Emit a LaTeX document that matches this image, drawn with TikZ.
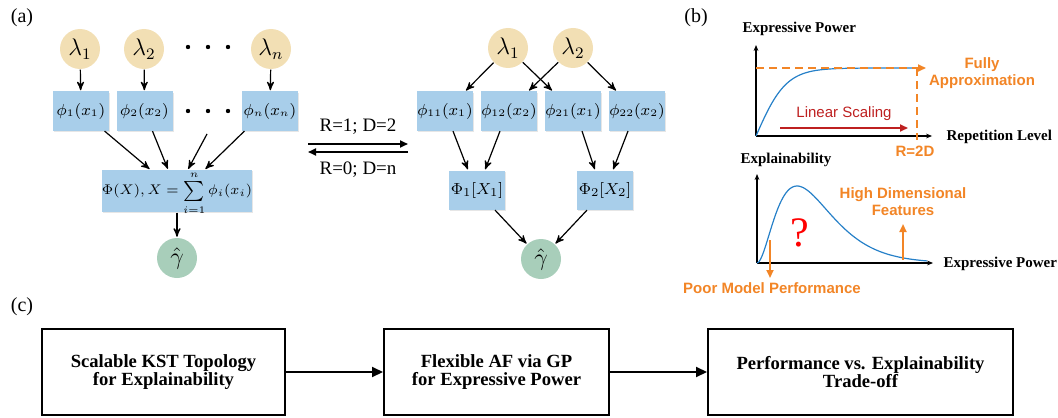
\documentclass[tikz,border=0pt]{standalone}
\usepackage{fontspec}
\setmainfont{Liberation Serif}
\setsansfont{Liberation Sans}
\usetikzlibrary{arrows,arrows.meta,shadows}

\definecolor{lamfill}{RGB}{242,223,180}
\definecolor{phifill}{RGB}{168,206,234}
\definecolor{outfill}{RGB}{168,206,186}
\definecolor{hiorange}{RGB}{242,133,38}
\definecolor{curveblue}{RGB}{38,128,200}
\definecolor{scalered}{RGB}{190,32,32}

\begin{document}
\begin{tikzpicture}[x=0.5pt,y=-0.5pt,>=stealth',line width=0.6pt]
  \tikzstyle{param} = [circle, fill=lamfill, minimum size=20pt, inner sep=0pt, font=\fontsize{12}{12}\selectfont]
  \tikzstyle{output} = [circle, fill=outfill, minimum size=20pt, inner sep=0pt, font=\fontsize{12}{12}\selectfont]
  \tikzstyle{func} = [rectangle, fill=phifill, minimum width=28pt, minimum height=19.5pt, inner sep=0pt, font=\fontsize{7.6}{7.6}\selectfont, drop shadow={shadow xshift=0.6pt, shadow yshift=-0.6pt, opacity=0.2}]
  \tikzstyle{dotmark} = [circle, fill, inner sep=0pt, minimum size=2.2pt]
  \tikzstyle{link} = [->, shorten >=0.3pt]
  \tikzstyle{swap} = [-{Triangle[length=4pt,width=3.5pt]}, line width=0.9pt]
  \tikzstyle{axis} = [-{Stealth[length=3pt,width=2.4pt]}, line width=0.6pt]
  \tikzstyle{axlabel} = [font=\bfseries\fontsize{7.5}{7.5}\selectfont, anchor=west, inner sep=0pt]
  \tikzstyle{note} = [text=hiorange, font=\sffamily\bfseries\fontsize{7.5}{8.6}\selectfont, align=center]
  \tikzstyle{pointer} = [draw=hiorange, line width=0.9pt, -{Triangle[length=4pt,width=3.5pt]}]
  \tikzstyle{stage} = [draw, line width=1pt, minimum height=43pt, align=center, font=\bfseries\fontsize{9.3}{8.8}\selectfont]
  \tikzstyle{flow} = [-{Triangle[length=5.5pt,width=5pt]}, line width=1pt]

  \useasboundingbox (0,0) rectangle (1058,417);

  % panel (a), separate parameters
  \node (tagA) at (22,18) {(a)};
  \node [param] (lam1) at (80,49) {$\lambda_1$};
  \node [param] (lam2) at (144,49) {$\lambda_2$};
  \node [param] (lamn) at (271,49) {$\lambda_n$};
  \foreach \i/\x in {1/188,2/208,3/228} {
    \node [dotmark] (ldot\i) at (\x,47) {};
    \node [dotmark] (pdot\i) at (\x,111) {};
  }
  \node [func] (phi1) at (81,111) {$\phi_1(x_1)$};
  \node [func] (phi2) at (144.5,111) {$\phi_2(x_2)$};
  \node [func] (phin) at (270,111) {$\phi_n(x_n)$};
  \coordinate (dotsfoot) at (207,134);
  \node [func, minimum width=60pt, minimum height=21pt, font=\fontsize{7.2}{7.2}\selectfont] (sum) at (177,191)
    {\raisebox{-0.25em}[0pt][0pt]{$\Phi(X), X = \sum\limits_{i=1}^{n} \phi_i(x_i)$}};
  \node [output] (gam1) at (177,258) {$\hat{\gamma}$};
  \draw [link] (lam1) -- (phi1);
  \draw [link] (lam2) -- (phi2);
  \draw [link] (lamn) -- (phin);
  \draw [link] ([xshift=-2.5pt]phi1.south east) -- ([xshift=-13.5pt]sum.north);
  \draw [link] ([xshift=4pt]phi2.south) -- ([xshift=-4.5pt]sum.north);
  \draw [link] (dotsfoot) -- ([xshift=5.5pt]sum.north);
  \draw [link] ([xshift=1.5pt]phin.south west) -- ([xshift=14pt]sum.north);
  \draw [link] (sum) -- (gam1);

  % switching between the two topologies
  \coordinate (swA) at (308,144);
  \coordinate (swB) at (408,144);
  \coordinate (swC) at (408,152);
  \coordinate (swD) at (308,152);
  \draw [swap] (swA) -- node [above=1pt, font=\fontsize{9.5}{9.5}\selectfont] {R=1; D=2} (swB);
  \draw [swap] (swC) -- node [below=1pt, font=\fontsize{9.5}{9.5}\selectfont] {R=0; D=n} (swD);

  % panel (a), repeated parameters
  \node [param] (rlam1) at (508,48) {$\lambda_1$};
  \node [param] (rlam2) at (573,48) {$\lambda_2$};
  \node [func] (phi11) at (445,111) {$\phi_{11}(x_1)$};
  \node [func] (phi12) at (509,111) {$\phi_{12}(x_2)$};
  \node [func] (phi21) at (573,111) {$\phi_{21}(x_1)$};
  \node [func] (phi22) at (637,111) {$\phi_{22}(x_2)$};
  \node [func, font=\fontsize{8.2}{8.2}\selectfont] (Phi1) at (477,190) {$\Phi_1[X_1]$};
  \node [func, font=\fontsize{8.2}{8.2}\selectfont] (Phi2) at (605,190) {$\Phi_2[X_2]$};
  \node [output] (gam2) at (541,259) {$\hat{\gamma}$};
  \draw [link] (rlam1) -- ([xshift=-4pt]phi11.north east);
  \draw [link] (rlam1) -- ([xshift=4pt]phi21.north west);
  \draw [link] (rlam2) -- ([xshift=-4.5pt]phi12.north east);
  \draw [link] (rlam2) -- ([xshift=4pt]phi22.north west);
  \draw [link] ([xshift=4pt]phi11.south) -- ([xshift=-4.5pt]Phi1.north);
  \draw [link] ([xshift=-4.5pt]phi12.south) -- ([xshift=4pt]Phi1.north);
  \draw [link] ([xshift=4.5pt]phi21.south) -- ([xshift=-5pt]Phi2.north);
  \draw [link] ([xshift=-4.5pt]phi22.south) -- ([xshift=4pt]Phi2.north);
  \draw [link] ([xshift=9pt]Phi1.south) -- (gam2);
  \draw [link] ([xshift=-9pt]Phi2.south) -- (gam2);

  % panel (b), expressive power against repetition
  \node (tagB) at (696,18) {(b)};
  \coordinate (oA) at (756,136);
  \coordinate (yA) at (756,45);
  \coordinate (xA) at (932,136);
  \draw [axis] (oA) -- (yA);
  \draw [axis] (oA) -- (xA);
  \node [axlabel] (yAlab) at (742,29) {Expressive Power};
  \node [axlabel] (xAlab) at (946,137) {Repetition Level};
  \draw [curveblue, line width=0.6pt, domain=0:161, samples=80] plot ({756+\x}, {136-68*tanh(\x/30)});
  \coordinate (fullA) at (756,68);
  \coordinate (fullB) at (926,68);
  \coordinate (rtop) at (917,68);
  \coordinate (rbot) at (917,140);
  \draw [hiorange, line width=0.9pt, dash pattern=on 4pt off 2.5pt, -{Triangle[length=4pt,width=3.5pt]}] (fullA) -- (fullB);
  \draw [hiorange, line width=0.9pt, dash pattern=on 4pt off 2.5pt] (rtop) -- (rbot);
  \node [note] (fullnote) at (982,73) {Fully\\Approximation};
  \node [note] (rnote) at (915,151) {R=2D};
  \coordinate (scA) at (780,128);
  \coordinate (scB) at (908,128);
  \draw [scalered, line width=0.9pt, -{Triangle[length=4pt,width=3.5pt]}] (scA) -- node [above=0pt, font=\sffamily\fontsize{7.5}{7.5}\selectfont, text=scalered] {Linear Scaling} (scB);

  % panel (b), explainability against expressive power
  \coordinate (oB) at (757,263);
  \coordinate (yB) at (757,174);
  \coordinate (xB) at (933,263);
  \draw [axis] (oB) -- (yB);
  \draw [axis] (oB) -- (xB);
  \node [axlabel] (yBlab) at (740,160) {Explainability};
  \node [axlabel] (xBlab) at (943,264) {Expressive Power};
  \draw [curveblue, line width=0.6pt, domain=0:170, samples=100] plot ({757+\x}, {263-77*(\x/40)*(\x/40)*exp(2*(1-\x/40))});
  \node [text=red, font=\fontsize{21}{21}\selectfont] (query) at (800,233) {?};
  \coordinate (poorA) at (770,240);
  \coordinate (poorB) at (770,278);
  \coordinate (highA) at (903,260);
  \coordinate (highB) at (903,224);
  \draw [pointer] (poorA) -- (poorB);
  \draw [pointer] (highA) -- (highB);
  \node [note] (poornote) at (772,288) {Poor Model Performance};
  \node [note] (highnote) at (903,202) {High Dimensional\\Features};

  % panel (c), pipeline
  \node (tagC) at (22,307) {(c)};
  \node [stage, minimum width=121.5pt] (topo) at (163.5,372) {Scalable KST Topology\\for Explainability};
  \node [stage, minimum width=112.5pt] (afgp) at (496.5,372) {Flexible AF via GP\\for Expressive Power};
  \node [stage, minimum width=152.5pt] (trade) at (860.5,372) {Performance vs. Explainability\\Trade-off};
  \draw [flow] (topo) -- (afgp);
  \draw [flow] (afgp) -- (trade);
\end{tikzpicture}
\end{document}
